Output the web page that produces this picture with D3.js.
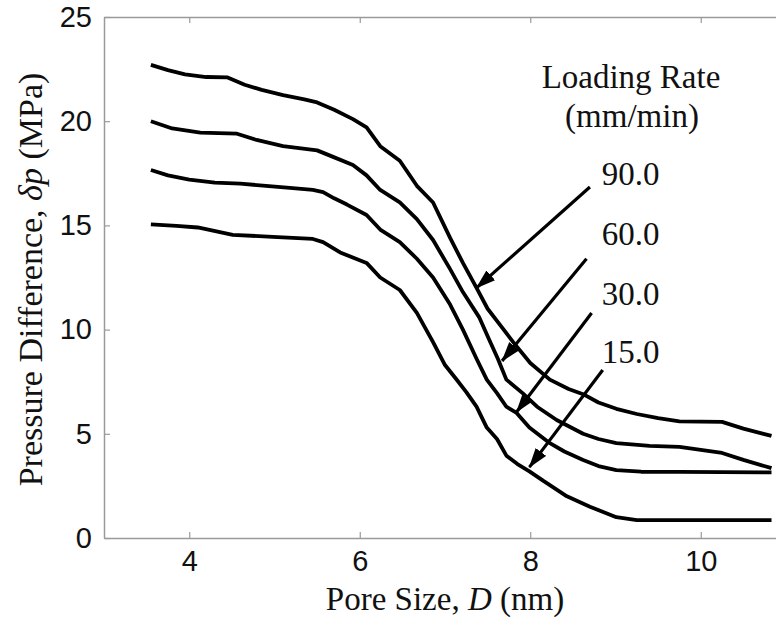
<!DOCTYPE html>
<html>
<head>
<meta charset="utf-8">
<script src="https://cdn.jsdelivr.net/npm/d3@7"></script>
<style>
  html, body { margin: 0; padding: 0; background: #fff; }
  svg { display: block; }
</style>
</head>
<body>
<svg id="chart" width="776" height="624"></svg>
<script>
// Pressure difference (MPa) against pore size D (nm) for four loading rates
const rate90 = [[3.55,22.7],[3.75,22.45],[3.95,22.25],[4.2,22.12],[4.45,22.1],[4.65,21.75],[4.85,21.5],[5.1,21.25],[5.35,21.05],[5.5,20.9],[5.7,20.55],[5.92,20.1],[6.08,19.7],[6.24,18.8],[6.47,18.1],[6.67,16.9],[6.86,16.1],[7.06,14.4],[7.21,13.2],[7.37,12.0],[7.5,11.0],[7.65,10.2],[7.8,9.4],[8.0,8.4],[8.23,7.6],[8.45,7.15],[8.62,6.9],[8.8,6.5],[9.01,6.2],[9.25,5.95],[9.5,5.75],[9.75,5.6],[10.25,5.57],[10.5,5.25],[10.83,4.9]];
const rate60 = [[3.55,20.0],[3.8,19.65],[4.13,19.45],[4.56,19.4],[4.79,19.1],[5.1,18.8],[5.5,18.6],[5.68,18.3],[5.92,17.9],[6.08,17.4],[6.24,16.7],[6.47,16.1],[6.67,15.3],[6.86,14.3],[7.06,12.9],[7.21,11.8],[7.4,10.6],[7.52,9.5],[7.62,8.6],[7.72,7.6],[7.91,6.95],[8.08,6.3],[8.31,5.66],[8.62,5.0],[8.8,4.75],[9.01,4.55],[9.4,4.42],[9.75,4.37],[10.25,4.08],[10.5,3.75],[10.83,3.35]];
const rate30 = [[3.55,17.66],[3.75,17.4],[4.0,17.2],[4.3,17.05],[4.6,17.0],[4.9,16.9],[5.18,16.8],[5.45,16.7],[5.57,16.6],[5.7,16.3],[5.85,16.0],[6.08,15.5],[6.24,14.8],[6.47,14.2],[6.67,13.4],[6.86,12.5],[7.06,11.2],[7.21,10.0],[7.37,8.6],[7.49,7.6],[7.61,6.95],[7.72,6.3],[7.84,6.0],[7.99,5.3],[8.23,4.55],[8.4,4.15],[8.62,3.74],[8.8,3.45],[9.01,3.26],[9.3,3.18],[9.75,3.17],[10.83,3.15]];
const rate15 = [[3.55,15.05],[3.85,14.98],[4.1,14.9],[4.51,14.55],[4.98,14.45],[5.45,14.35],[5.57,14.2],[5.77,13.7],[6.08,13.2],[6.24,12.5],[6.47,11.9],[6.67,10.8],[6.86,9.4],[7.0,8.3],[7.14,7.58],[7.25,7.0],[7.37,6.3],[7.49,5.3],[7.61,4.75],[7.72,3.95],[7.85,3.55],[7.99,3.2],[8.15,2.75],[8.43,2.0],[8.7,1.5],[9.01,1.0],[9.25,0.86],[10.83,0.86]];

const rateLabels = ["90.0", "60.0", "30.0", "15.0"];
// label anchor (D, dp) and arrow from tail to head, in data units
const labelPos   = [[8.84,16.94],[8.84,14.06],[8.84,11.18],[8.84,8.4]];
const arrowTail  = [[8.70,16.84],[8.66,13.4],[8.72,10.8],[8.85,8.06]];
const arrowHead  = [[7.37,12.0],[7.67,8.5],[7.84,6.05],[7.99,3.4]];

const xTicks = [4, 6, 8, 10];
const yTicks = [0, 5, 10, 15, 20, 25];

const svg = d3.select("#chart");
const plotLeft = 104, plotRight = 786, plotTop = 17, plotBottom = 538;

const x = d3.scaleLinear().domain([3, 11]).range([plotLeft, plotRight]);
const y = d3.scaleLinear().domain([0, 25]).range([plotBottom, plotTop]);

const axisColor = "#9a9a9a";
const sans = "'Liberation Sans', Arial, sans-serif";
const serif = "'Liberation Serif', 'Times New Roman', serif";

// axes: bottom/left with labels, top mirrored ticks, ticks drawn inward
function styleAxis(g) {
  g.select(".domain").attr("stroke", axisColor).attr("stroke-width", 1.5);
  g.selectAll(".tick line").attr("stroke", axisColor).attr("stroke-width", 1.2);
  g.selectAll(".tick text").attr("fill", "#111").attr("font-family", sans).attr("font-size", 29);
}

svg.append("g")
  .attr("transform", `translate(0,${plotBottom})`)
  .call(d3.axisBottom(x).tickValues(xTicks).tickFormat(d3.format("d")).tickSizeInner(-6).tickSizeOuter(0).tickPadding(12))
  .call(styleAxis);

svg.append("g")
  .attr("transform", `translate(0,${plotTop})`)
  .call(d3.axisTop(x).tickValues(xTicks).tickFormat("").tickSizeInner(-6).tickSizeOuter(0))
  .call(styleAxis);

svg.append("g")
  .attr("transform", `translate(${plotLeft},0)`)
  .call(d3.axisLeft(y).tickValues(yTicks).tickFormat(d3.format("d")).tickSizeInner(-6).tickSizeOuter(0).tickPadding(12))
  .call(styleAxis);

// curves
const line = d3.line().x(d => x(d[0])).y(d => y(d[1]));
svg.append("g")
  .selectAll("path")
  .data([rate90, rate60, rate30, rate15])
  .join("path")
  .attr("d", line)
  .attr("fill", "none")
  .attr("stroke", "#000")
  .attr("stroke-width", 3.8)
  .attr("stroke-linejoin", "round")
  .attr("stroke-linecap", "butt");

// arrowhead marker
svg.append("defs").append("marker")
  .attr("id", "head")
  .attr("markerUnits", "userSpaceOnUse")
  .attr("viewBox", "0 -7 20 14")
  .attr("refX", 19).attr("refY", 0)
  .attr("markerWidth", 20).attr("markerHeight", 14)
  .attr("orient", "auto")
  .append("path")
  .attr("d", "M0,-6.5L20,0L0,6.5Z")
  .attr("fill", "#000");

svg.append("g")
  .selectAll("line")
  .data(d3.range(rateLabels.length))
  .join("line")
  .attr("x1", i => x(arrowTail[i][0]))
  .attr("y1", i => y(arrowTail[i][1]))
  .attr("x2", i => x(arrowHead[i][0]))
  .attr("y2", i => y(arrowHead[i][1]))
  .attr("stroke", "#000")
  .attr("stroke-width", 3.2)
  .attr("marker-end", "url(#head)");

// rate labels
svg.append("g")
  .selectAll("text")
  .data(rateLabels)
  .join("text")
  .attr("x", (d, i) => x(labelPos[i][0]))
  .attr("y", (d, i) => y(labelPos[i][1]))
  .attr("font-family", serif)
  .attr("font-size", 33)
  .attr("fill", "#111")
  .text(d => d);

// legend heading
const heading = svg.append("text")
  .attr("font-family", serif).attr("font-size", 33).attr("fill", "#111")
  .attr("text-anchor", "middle");
heading.append("tspan").attr("x", 631).attr("y", 88).text("Loading Rate");
heading.append("tspan").attr("x", 632).attr("y", 127).text("(mm/min)");

// axis titles
const xTitle = svg.append("text")
  .attr("x", (plotLeft + plotRight) / 2).attr("y", 610)
  .attr("text-anchor", "middle")
  .attr("font-family", serif).attr("font-size", 33).attr("fill", "#111");
xTitle.append("tspan").text("Pore Size, ");
xTitle.append("tspan").attr("font-style", "italic").text("D");
xTitle.append("tspan").text(" (nm)");

const yTitle = svg.append("text")
  .attr("transform", `translate(42,${(plotTop + plotBottom) / 2 + 2}) rotate(-90)`)
  .attr("text-anchor", "middle")
  .attr("font-family", serif).attr("font-size", 34).attr("fill", "#111");
yTitle.append("tspan").text("Pressure Difference, ");
yTitle.append("tspan").attr("font-style", "italic").text("δp");
yTitle.append("tspan").text(" (MPa)");
</script>
</body>
</html>
